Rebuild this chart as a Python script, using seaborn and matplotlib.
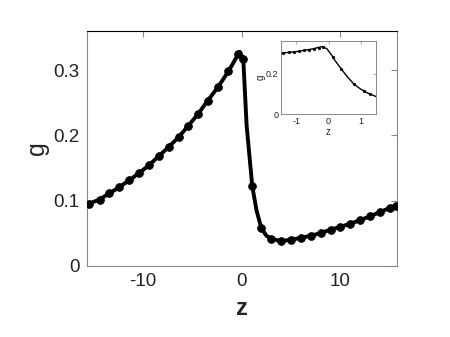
import matplotlib
matplotlib.use("Agg")
import matplotlib.pyplot as plt
import seaborn as sns

# main curve: marker positions
z_marks = [-15.5, -14.4, -13.4, -12.4, -11.4, -10.4, -9.4, -8.4, -7.4, -6.4,
           -5.45, -4.45, -3.45, -2.4, -1.35, -0.34, 0.16,
           1.07, 1.98, 2.98, 4.0, 5.0, 6.0, 7.0, 8.0, 9.0, 10.0, 11.0,
           12.0, 13.0, 14.0, 15.0, 15.6]
g_marks = [0.095, 0.1015, 0.111, 0.1205, 0.131, 0.142, 0.154, 0.168, 0.182, 0.197,
           0.214, 0.232, 0.253, 0.274, 0.298, 0.3246, 0.317,
           0.122, 0.058, 0.0415, 0.0375, 0.040, 0.0426, 0.046, 0.050, 0.0554,
           0.0595, 0.0646, 0.0697, 0.076, 0.082, 0.0887, 0.092]

# extra points on the line between the markers
z_extra = [-15.7, -0.2, 0.5, 1.5, 2.5]
g_extra = [0.093, 0.328, 0.215, 0.085, 0.046]

# inset (zoom near z = 0)
z_inset = [-1.5, -1.0, -0.5, -0.2, -0.05, 0.1, 0.2, 0.4, 0.6, 0.8, 1.0, 1.2, 1.5]
g_inset = [0.300, 0.308, 0.321, 0.333, 0.322, 0.290, 0.265, 0.222, 0.182,
           0.147, 0.124, 0.106, 0.086]
z_inset_marks = [-1.41, -1.24, -1.07, -0.92, -0.76, -0.61, -0.45, -0.30, -0.18,
                 0.13, 0.39, 0.78, 1.11, 1.30]
g_inset_marks = [0.301, 0.304, 0.307, 0.310, 0.314, 0.318, 0.322, 0.328, 0.333,
                 0.283, 0.224, 0.150, 0.114, 0.100]

sns.set_style("white")
plt.rcParams["font.family"] = ["Liberation Sans", "DejaVu Sans"]

pts = sorted(zip(z_marks + z_extra, g_marks + g_extra))
z_line = [p[0] for p in pts]
g_line = [p[1] for p in pts]

fig = plt.figure(figsize=(4.5, 3.37), dpi=100)
ax = fig.add_axes([0.1927, 0.2116, 0.6888, 0.6964])
sns.lineplot(x=z_line, y=g_line, ax=ax, color="black", linewidth=2.8,
             sort=False, estimator=None)
sns.scatterplot(x=z_marks, y=g_marks, ax=ax, color="black", s=32,
                edgecolor="black", linewidth=0.5, zorder=3)
ax.set_xlim(-15.7, 15.7)
ax.set_ylim(0, 0.36)
ax.set_xticks([-10, 0, 10])
ax.set_yticks([0, 0.1, 0.2, 0.3])
ax.set_xticklabels(["-10", "0", "10"])
ax.set_yticklabels(["0", "0.1", "0.2", "0.3"])
ax.tick_params(direction="in", length=4, width=0.8, color="#888888",
               labelsize=13.5, labelcolor="#222222", top=True, right=True,
               pad=5)
for side in ["left", "bottom", "right"]:
    ax.spines[side].set_color("#888888")
ax.spines["top"].set_color("black")
ax.set_xlabel("z", fontsize=17, fontweight="bold", labelpad=5)
ax.set_ylabel("g", fontsize=18, labelpad=3)

ins = fig.add_axes([0.6244, 0.6608, 0.2112, 0.2175])
sns.lineplot(x=z_inset, y=g_inset, ax=ins, color="black", linewidth=1.0,
             sort=False, estimator=None)
sns.scatterplot(x=z_inset_marks, y=g_inset_marks, ax=ins, color="black", s=4,
                edgecolor="black", linewidth=0.3, zorder=3)
ins.set_xlim(-1.48, 1.48)
ins.set_ylim(0, 0.36)
ins.set_xticks([-1, 0, 1])
ins.set_yticks([0, 0.2])
ins.set_xticklabels(["-1", "0", "1"])
ins.set_yticklabels(["0", "0.2"])
ins.tick_params(direction="in", length=2, width=0.5, color="#888888",
                labelsize=6.5, labelcolor="#222222", top=True, right=True, pad=2)
for side in ins.spines:
    ins.spines[side].set_color("#888888")
    ins.spines[side].set_linewidth(0.7)
ins.set_xlabel("z", fontsize=7, labelpad=1)
ins.set_ylabel("g", fontsize=7, labelpad=0)

fig.savefig("out.png", dpi=100, facecolor="white")
